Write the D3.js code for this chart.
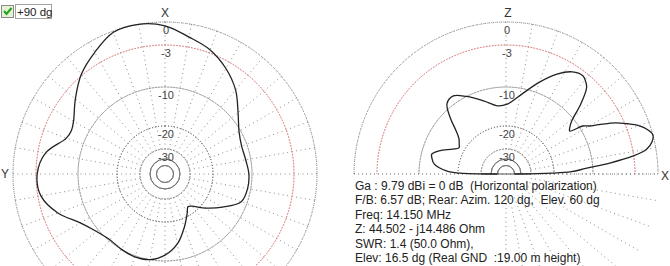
<!DOCTYPE html>
<html>
<head>
<meta charset="utf-8">
<script src="https://cdn.jsdelivr.net/npm/d3@7"></script>
<style>
  body { margin: 0; background: #fff; }
  svg { display: block; font-family: 'Liberation Sans', Arial, sans-serif; }
  text { white-space: pre; }
</style>
</head>
<body>
<div id="chart"></div>
<script>
// Grid rings (dB) and their labels
const ringLevels = [0, -3, -10, -20, -30];
const ringLabels = ['0', '-3', '-10', '-20', '-30'];
const innerRings = [-40, -50];

// Horizontal pattern: azimuth in degrees (clockwise from X), gain in dB
const azAngles = [0, 10, 20, 30, 40, 50, 60, 70, 80, 90, 100, 110, 120, 130, 140, 145, 150, 160, 170, 180,
  190, 200, 210, 220, 230, 240, 250, 260, 270, 280, 290, 295, 300, 310, 320, 330, 340, 350];
const azGain = [-0.5, -1.7, -2.6, -4.2, -6.2, -8.6, -10.4, -11.4, -11.3, -10.8, -10.8, -11.5, -15.3, -18.7, -22.6, -23.5, -21.5, -17.8, -14.1, -11.5,
  -10.0, -9.8, -10.0, -10.3, -9.6, -8.2, -5.5, -3.5, -3.2, -4.3, -7.0, -7.3, -6.9, -5.0, -2.85, -1.5, -0.15, 0];

// Vertical pattern: elevation in degrees (from X toward Z), gain in dB
const elAngles = [0, 1, 2, 4, 6, 8, 10, 12.5, 15, 17.5, 20, 22.5, 25, 28, 30, 32, 34, 36, 39, 43, 47, 50, 52, 57, 63, 70, 78, 89,
  97, 107, 117, 124, 130, 135, 139, 143, 147, 151, 155, 161, 165, 168, 172, 177, 179, 180];
const elGain = [-50, -21, -15.5, -11.8, -7.1, -3.2, -1.2, -0.3, 0, -0.5, -1.4, -2.7, -4.3, -7.0, -8.5, -9.4, -12.6, -12.1, -10.6, -7.5, -4.8, -4.0, -3.7, -4.2, -5.8, -8.2, -11.1, -14.4,
  -14.7, -12.7, -10.0, -8.8, -9.2, -12.2, -15.3, -17.2, -18.0, -18.5, -17.2, -14.1, -12.6, -12.9, -13.7, -17.0, -21.0, -50];

const infoLines = [
  'Ga : 9.79 dBi = 0 dB  (Horizontal polarization)',
  'F/B: 6.57 dB; Rear: Azim. 120 dg,  Elev. 60 dg',
  'Freq: 14.150 MHz',
  'Z: 44.502 - j14.486 Ohm',
  'SWR: 1.4 (50.0 Ohm),',
  'Elev: 16.5 dg (Real GND  :19.00 m height)'
];

var width = 670, height = 266;

const svg = d3.select('#chart')
  .append('svg')
  .attr('width', width)
  .attr('height', height);

// radial scale (dB -> px), ARRL-like log grid
const r = d3.scaleLinear()
  .domain([-50, -40, -30, -20, -10, -3, 0])
  .range([8.5, 15, 25, 48, 87, 129, 152]);

const rad = d => d * Math.PI / 180;

function drawGrid(g, half, labels) {
  const arcFull = d3.arc().innerRadius(d => r(d)).outerRadius(d => r(d))
    .startAngle(half ? -Math.PI / 2 : 0)
    .endAngle(half ? Math.PI / 2 : 2 * Math.PI);

  // spokes every 10 degrees
  const spokes = d3.range(0, half ? 190 : 360, 10);
  g.selectAll('.spoke')
    .data(spokes)
    .enter()
    .append('line')
    .attr('x1', d => r(-30) * Math.sin(rad(d)))
    .attr('y1', d => -r(-30) * Math.cos(rad(d)))
    .attr('x2', d => r(0) * Math.sin(rad(d)))
    .attr('y2', d => -r(0) * Math.cos(rad(d)))
    .attr('stroke', '#8c8c8c')
    .attr('stroke-dasharray', '1,3.5');

  // dotted rings
  g.selectAll('.ring')
    .data(ringLevels)
    .enter()
    .append('path')
    .attr('d', d => arcFull(d))
    .attr('fill', 'none')
    .attr('stroke', d => d === -3 ? '#d86a6a' : '#707070')
    .attr('stroke-dasharray', d => d === 0 ? '1,3' : '1,2');

  // solid inner rings
  g.selectAll('.inner')
    .data(innerRings)
    .enter()
    .append('path')
    .attr('d', d => arcFull(d))
    .attr('fill', 'none')
    .attr('stroke', '#777');

  if (half) {
    g.append('line')
      .attr('x1', -r(0)).attr('x2', r(0))
      .attr('stroke', '#666')
      .attr('stroke-dasharray', '1,3');
    g.append('line')
      .attr('x1', -r(-30)).attr('x2', r(-30))
      .attr('stroke', '#555');
  }

  // ring labels
  g.selectAll('.rl')
    .data(ringLevels)
    .enter()
    .append('text')
    .attr('x', 1)
    .attr('y', d => -r(d) + 12)
    .attr('text-anchor', 'middle')
    .attr('font-size', '11px')
    .attr('fill', '#444')
    .text((d, i) => labels[i]);
}

// ---- Left: horizontal (azimuth) pattern ----
const left = svg.append('g').attr('transform', 'translate(165,174)');
drawGrid(left, false, ringLabels);

const azData = azAngles.map((a, i) => ({ a: a, g: azGain[i] }));
const azLine = d3.lineRadial()
  .angle(d => rad(d.a))
  .radius(d => r(d.g))
  .curve(d3.curveCatmullRomClosed);
left.append('path')
  .attr('d', azLine(azData))
  .attr('fill', 'none')
  .attr('stroke', '#222')
  .attr('stroke-width', 1.3);

left.append('text').attr('x', 0).attr('y', -r(0) - 5)
  .attr('text-anchor', 'middle').attr('font-size', '12px').attr('fill', '#333').text('X');
left.append('text').attr('x', -r(0) - 8).attr('y', 4)
  .attr('text-anchor', 'middle').attr('font-size', '12px').attr('fill', '#333').text('Y');

// ---- Right: vertical (elevation) pattern ----
const right = svg.append('g').attr('transform', 'translate(506,174)');
drawGrid(right, true, ringLabels);

const elData = elAngles.map((a, i) => ({ a: a, g: elGain[i] }));
const elLine = d3.lineRadial()
  .angle(d => rad(90 - d.a))
  .radius(d => r(d.g))
  .curve(d3.curveCatmullRom);
right.append('path')
  .attr('d', elLine(elData))
  .attr('fill', 'none')
  .attr('stroke', '#222')
  .attr('stroke-width', 1.3);

right.append('text').attr('x', 2).attr('y', -r(0) - 5)
  .attr('text-anchor', 'middle').attr('font-size', '12px').attr('fill', '#333').text('Z');
right.append('text').attr('x', r(0) + 7).attr('y', 6)
  .attr('text-anchor', 'middle').attr('font-size', '12px').attr('fill', '#333').text('X');

// ---- info text ----
svg.append('g')
  .selectAll('text')
  .data(infoLines)
  .enter()
  .append('text')
  .attr('x', 355)
  .attr('y', (d, i) => 189.5 + i * 14.5)
  .attr('font-size', '12px')
  .attr('fill', '#222')
  .text(d => d);

// ---- checkbox ----
const cb = svg.append('g');
cb.append('rect')
  .attr('x', 1.5).attr('y', 5.5).attr('width', 12).attr('height', 12)
  .attr('fill', '#e4f2d2').attr('stroke', '#8a8a8a');
cb.append('path')
  .attr('d', 'M4,11 L6.5,14 L11.5,8')
  .attr('fill', 'none').attr('stroke', '#21a021').attr('stroke-width', 2);
cb.append('rect')
  .attr('x', 15.5).attr('y', 4.5).attr('width', 36).attr('height', 14)
  .attr('fill', 'none').attr('stroke', '#444').attr('stroke-dasharray', '1,1');
cb.append('text')
  .attr('x', 17).attr('y', 16)
  .attr('font-size', '11.5px')
  .attr('fill', '#222')
  .text('+90 dg');
</script>
</body>
</html>
